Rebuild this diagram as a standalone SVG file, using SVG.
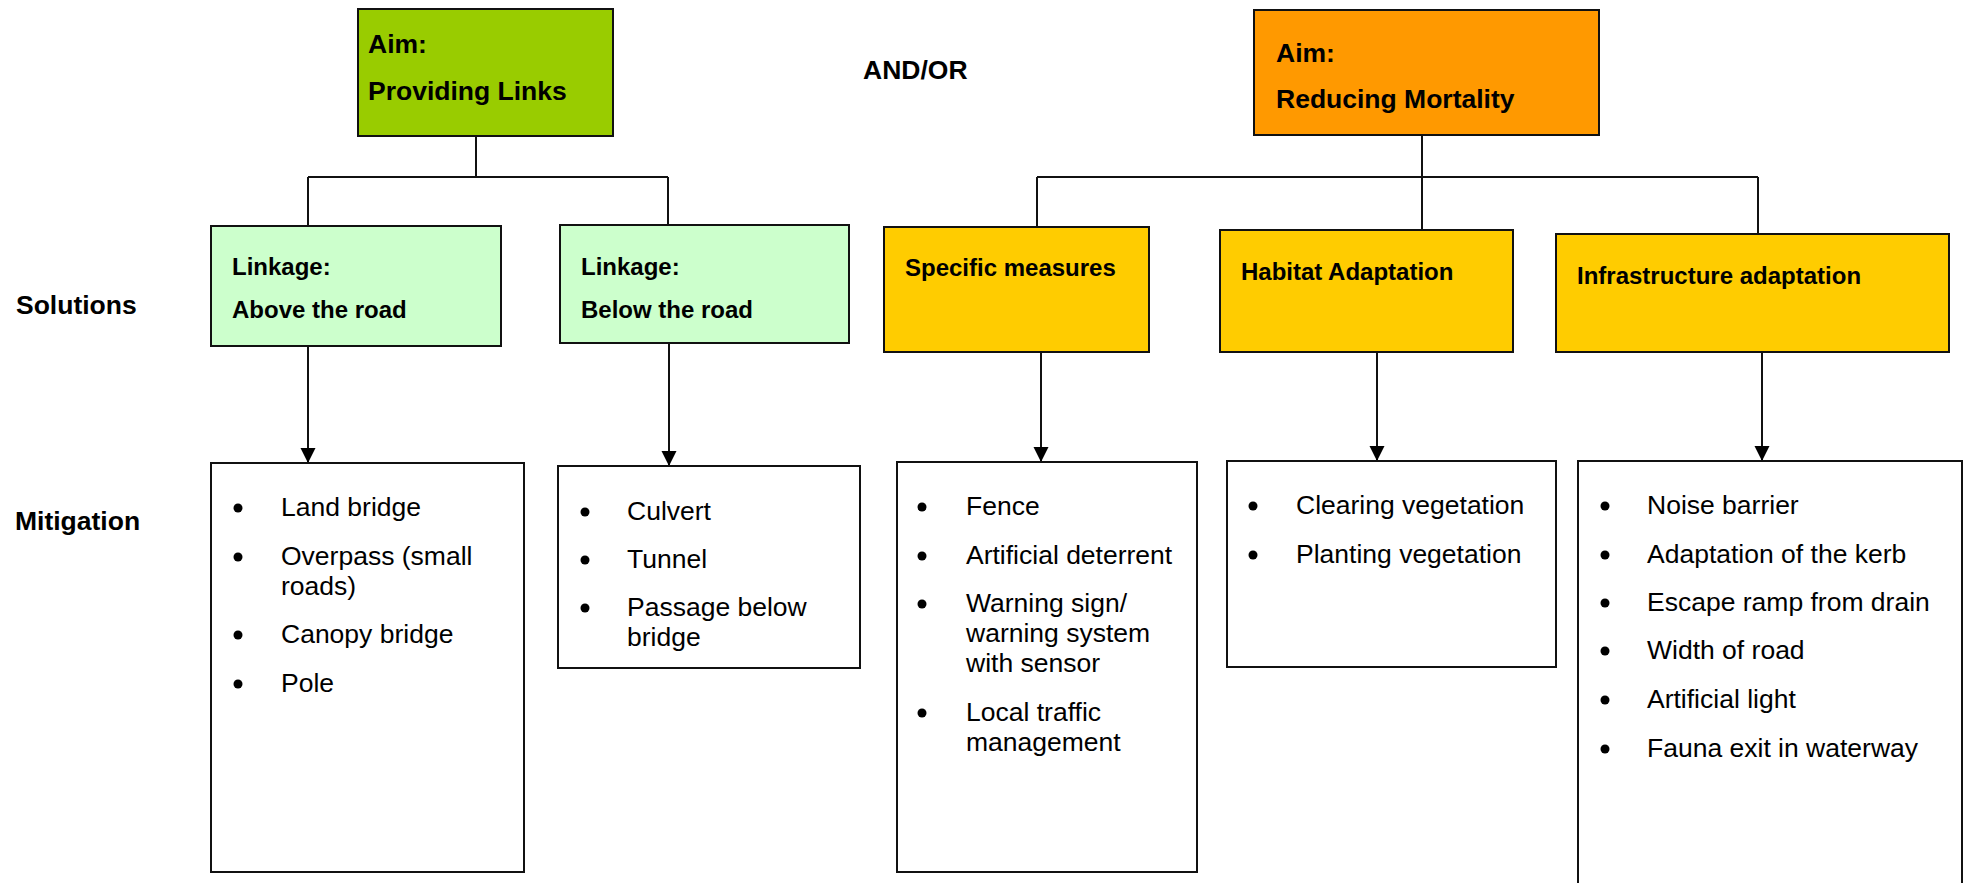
<svg xmlns="http://www.w3.org/2000/svg" width="1964" height="883" viewBox="0 0 1964 883">
  <defs>
    <style>
      .box { stroke: #111; stroke-width: 2; }
      .aim-links { fill: #99CC00; }
      .aim-mort { fill: #FF9900; }
      .link { fill: #CCFFCC; }
      .sol { fill: #FFCC00; }
      .mit { fill: #FFFFFF; }
      .wire { fill: none; stroke: #111; stroke-width: 2; }
      .head { font-family: "Liberation Sans", Arial, sans-serif; font-weight: bold; font-size: 26.5px; fill: #000; }
      .label { font-family: "Liberation Sans", Arial, sans-serif; font-weight: bold; font-size: 24px; fill: #000; }
      .item { font-family: "Liberation Sans", Arial, sans-serif; font-size: 26.5px; fill: #000; }
      .dot { fill: #000; }
    </style>
    <marker id="arrow" markerUnits="userSpaceOnUse" markerWidth="16" markerHeight="16" refX="15" refY="8" orient="auto">
      <path d="M0,0.5 L15,8 L0,15.5 Z" fill="#000"/>
    </marker>
  </defs>

  <rect width="1964" height="883" fill="#FFFFFF"/>

  <!-- row labels -->
  <g id="row-labels">
    <text class="head" x="16" y="314">Solutions</text>
    <text class="head" x="15" y="530">Mitigation</text>
    <text class="head" x="863" y="79">AND/OR</text>
  </g>

  <!-- connectors -->
  <g id="connectors">
    <path class="wire" d="M476,136 V177 M308,177 H668 M308,177 V226 M668,177 V225"/>
    <path class="wire" d="M1422,135 V230 M1037,177 H1758 M1037,177 V227 M1758,177 V234"/>
    <line class="wire" x1="308" y1="346" x2="308" y2="463" marker-end="url(#arrow)"/>
    <line class="wire" x1="669" y1="343" x2="669" y2="466" marker-end="url(#arrow)"/>
    <line class="wire" x1="1041" y1="352" x2="1041" y2="462" marker-end="url(#arrow)"/>
    <line class="wire" x1="1377" y1="352" x2="1377" y2="461" marker-end="url(#arrow)"/>
    <line class="wire" x1="1762" y1="352" x2="1762" y2="461" marker-end="url(#arrow)"/>
  </g>

  <!-- aims -->
  <g id="aim-links">
    <rect class="box aim-links" x="358" y="9" width="255" height="127"/>
    <text class="head" x="368" y="53">Aim:</text>
    <text class="head" x="368" y="100">Providing Links</text>
  </g>
  <g id="aim-mortality">
    <rect class="box aim-mort" x="1254" y="10" width="345" height="125"/>
    <text class="head" x="1276" y="62">Aim:</text>
    <text class="head" x="1276" y="108">Reducing Mortality</text>
  </g>

  <!-- solutions -->
  <g id="sol-above">
    <rect class="box link" x="211" y="226" width="290" height="120"/>
    <text class="label" x="232" y="275">Linkage:</text>
    <text class="label" x="232" y="318">Above the road</text>
  </g>
  <g id="sol-below">
    <rect class="box link" x="560" y="225" width="289" height="118"/>
    <text class="label" x="581" y="275">Linkage:</text>
    <text class="label" x="581" y="318">Below the road</text>
  </g>
  <g id="sol-specific">
    <rect class="box sol" x="884" y="227" width="265" height="125"/>
    <text class="label" x="905" y="276">Specific measures</text>
  </g>
  <g id="sol-habitat">
    <rect class="box sol" x="1220" y="230" width="293" height="122"/>
    <text class="label" x="1241" y="280">Habitat Adaptation</text>
  </g>
  <g id="sol-infra">
    <rect class="box sol" x="1556" y="234" width="393" height="118"/>
    <text class="label" x="1577" y="284">Infrastructure adaptation</text>
  </g>

  <!-- mitigation lists -->
  <g id="mit-above">
    <rect class="box mit" x="211" y="463" width="313" height="409"/>
    <circle class="dot" cx="238" cy="508" r="4.5"/><text class="item" x="281" y="516">Land bridge</text>
    <circle class="dot" cx="238" cy="557" r="4.5"/><text class="item" x="281" y="565">Overpass (small</text>
    <text class="item" x="281" y="595">roads)</text>
    <circle class="dot" cx="238" cy="635" r="4.5"/><text class="item" x="281" y="643">Canopy bridge</text>
    <circle class="dot" cx="238" cy="684" r="4.5"/><text class="item" x="281" y="692">Pole</text>
  </g>
  <g id="mit-below">
    <rect class="box mit" x="558" y="466" width="302" height="202"/>
    <circle class="dot" cx="585" cy="512" r="4.5"/><text class="item" x="627" y="520">Culvert</text>
    <circle class="dot" cx="585" cy="560" r="4.5"/><text class="item" x="627" y="568">Tunnel</text>
    <circle class="dot" cx="585" cy="608" r="4.5"/><text class="item" x="627" y="616">Passage below</text>
    <text class="item" x="627" y="646">bridge</text>
  </g>
  <g id="mit-specific">
    <rect class="box mit" x="897" y="462" width="300" height="410"/>
    <circle class="dot" cx="922" cy="507" r="4.5"/><text class="item" x="966" y="515">Fence</text>
    <circle class="dot" cx="922" cy="556" r="4.5"/><text class="item" x="966" y="564">Artificial deterrent</text>
    <circle class="dot" cx="922" cy="604" r="4.5"/><text class="item" x="966" y="612">Warning sign/</text>
    <text class="item" x="966" y="642">warning system</text>
    <text class="item" x="966" y="672">with sensor</text>
    <circle class="dot" cx="922" cy="713" r="4.5"/><text class="item" x="966" y="721">Local traffic</text>
    <text class="item" x="966" y="751">management</text>
  </g>
  <g id="mit-habitat">
    <rect class="box mit" x="1227" y="461" width="329" height="206"/>
    <circle class="dot" cx="1253" cy="506" r="4.5"/><text class="item" x="1296" y="514">Clearing vegetation</text>
    <circle class="dot" cx="1253" cy="555" r="4.5"/><text class="item" x="1296" y="563">Planting vegetation</text>
  </g>
  <g id="mit-infra">
    <rect class="box mit" x="1578" y="461" width="384" height="440"/>
    <circle class="dot" cx="1605" cy="506" r="4.5"/><text class="item" x="1647" y="514">Noise barrier</text>
    <circle class="dot" cx="1605" cy="555" r="4.5"/><text class="item" x="1647" y="563">Adaptation of the kerb</text>
    <circle class="dot" cx="1605" cy="603" r="4.5"/><text class="item" x="1647" y="611">Escape ramp from drain</text>
    <circle class="dot" cx="1605" cy="651" r="4.5"/><text class="item" x="1647" y="659">Width of road</text>
    <circle class="dot" cx="1605" cy="700" r="4.5"/><text class="item" x="1647" y="708">Artificial light</text>
    <circle class="dot" cx="1605" cy="749" r="4.5"/><text class="item" x="1647" y="757">Fauna exit in waterway</text>
  </g>
</svg>
